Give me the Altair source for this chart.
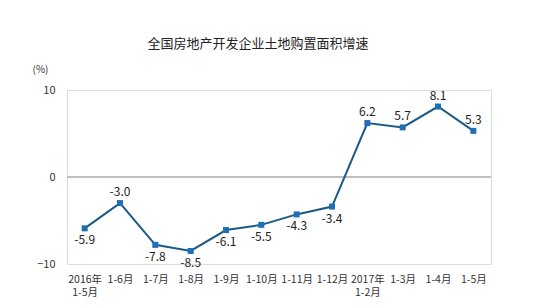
import altair as alt
import pandas as pd

categories = ["2016年 1-5月", "1-6月", "1-7月", "1-8月", "1-9月", "1-10月",
              "1-11月", "1-12月", "2017年 1-2月", "1-3月", "1-4月", "1-5月"]
values = [-5.9, -3.0, -7.8, -8.5, -6.1, -5.5, -4.3, -3.4, 6.2, 5.7, 8.1, 5.3]
label_pos = ["below", "above", "below", "below", "below", "below",
             "below", "below", "above", "above", "above", "above"]

df = pd.DataFrame({"cat": categories, "v": values, "pos": label_pos,
                   "lab": [f"{x:.1f}" for x in values]})

font = "Noto Sans CJK SC"

x = alt.X("cat:N", sort=categories, title=None,
          axis=alt.Axis(labelExpr="split(datum.label, ' ')", labelAngle=0,
                        labelFont=font, labelFontSize=10.5, labelColor="#333",
                        labelPadding=10, ticks=False, domain=False,
                        labelLineHeight=13.5))
y = alt.Y("v:Q", scale=alt.Scale(domain=[-10, 10], nice=False),
          axis=alt.Axis(values=[-10, 0, 10], grid=False, ticks=False, domain=False,
                        labelFont=font, labelFontSize=11, labelColor="#333",
                        labelPadding=12, title="(%)", titleAngle=0,
                        titleFont=font, titleFontSize=10, titleFontWeight="normal",
                        titleColor="#333", titleX=-27, titleY=-16))

base = alt.Chart(df)

zero = base.mark_rule(color="#bfbfbf", strokeWidth=1).encode(y=alt.datum(0))

line = base.mark_line(color="#1b5a86", strokeWidth=2).encode(x=x, y=y)
pts = base.mark_square(color="#1f6fb4", size=36, opacity=1).encode(x=x, y=y)

above = base.transform_filter("datum.pos == 'above'").mark_text(
    dy=-11, font=font, fontSize=12, color="#222").encode(x=x, y=y, text="lab:N")
below = base.transform_filter("datum.pos == 'below'").mark_text(
    dy=12, font=font, fontSize=12, color="#222").encode(x=x, y=y, text="lab:N")

chart = alt.layer(zero, line, pts, above, below).properties(
    width=424, height=174,
    title=alt.TitleParams("全国房地产开发企业土地购置面积增速", font=font, fontSize=13,
                          fontWeight="normal", color="#222", dx=-21, offset=7,
                          baseline="middle"),
    padding={"left": 67, "top": 90, "right": 59, "bottom": 43},
    autosize=alt.AutoSizeParams(type="none"),
).configure_view(stroke="#d0d0d0", strokeWidth=1).configure(background="white")

chart.save("out.html", embed_options={"renderer": "svg", "actions": False})
